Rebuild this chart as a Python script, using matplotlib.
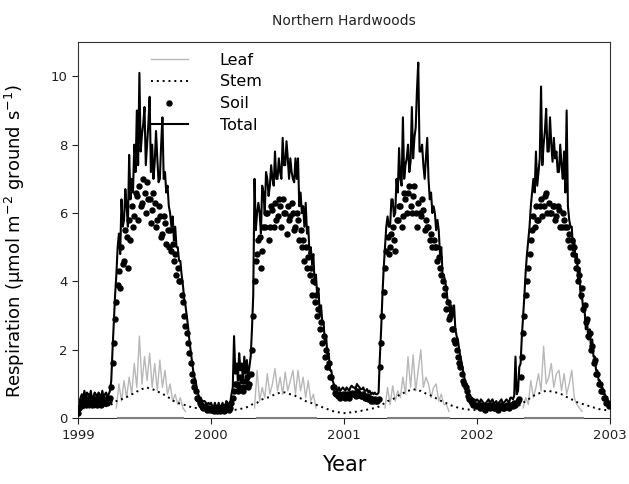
import numpy as np
import matplotlib
matplotlib.use("Agg")
import matplotlib.pyplot as plt

soil_1999 = [0.15, 0.3, 0.35, 0.5, 0.45, 0.6, 0.4, 0.55, 0.5, 0.45, 0.6, 0.4, 0.45, 0.55, 0.5, 0.4,
             0.55, 0.5, 0.4, 0.6, 0.45, 0.5, 0.55, 0.45, 0.5, 0.6,
             0.9, 1.6, 2.2, 2.9, 3.4, 3.9, 4.3, 3.8, 5.0, 4.5,
             4.6, 5.5, 5.3, 4.4, 5.8, 5.2, 6.2, 5.6, 5.9, 6.6, 6.5, 5.8, 6.8, 6.2, 6.3, 7.0,
             6.6, 6.0, 6.9, 6.4, 6.4, 5.7, 6.1, 6.6, 6.3, 5.6, 5.8, 6.2, 5.9, 5.3, 5.4, 5.9, 5.7, 5.1, 5.5, 5.0,
             5.5, 4.9, 5.1, 4.6, 4.8, 4.2, 4.4, 4.0, 4.0, 3.6, 3.4, 3.0, 2.7, 2.5, 2.2, 1.9,
             1.6, 1.3, 1.1, 0.9, 0.8, 0.6, 0.55, 0.45, 0.4, 0.35, 0.3, 0.35, 0.3, 0.25, 0.3, 0.25]
soil_2000 = [0.3, 0.25, 0.2, 0.3, 0.25, 0.2, 0.3, 0.2, 0.25, 0.3, 0.2, 0.25, 0.35, 0.3, 0.25, 0.3,
             0.45, 0.6, 0.8, 1.0, 1.0, 0.8, 0.9, 1.2, 1.1, 0.8, 0.9, 1.1, 1.2, 0.9, 1.0, 1.3,
             2.0, 3.0, 4.0, 4.6, 4.8, 5.2, 5.3, 4.4, 4.9, 5.6, 5.6, 6.0, 6.0, 5.2, 5.6, 6.2,
             6.1, 5.6, 6.3, 5.8, 5.9, 6.4, 6.2, 5.6, 6.4, 6.0, 6.0, 5.4, 6.2, 5.8, 5.9, 6.3, 6.0, 5.5, 5.6, 6.0,
             5.8, 5.2, 5.5, 5.0, 5.2, 4.6, 5.0, 4.4, 4.7, 4.2, 4.4, 3.6, 4.0, 3.4, 3.6, 3.0,
             3.2, 2.6, 2.8, 2.2, 2.4, 1.8, 2.0, 1.5, 1.6, 1.2, 1.2, 0.9, 0.9, 0.75, 0.7, 0.65, 0.7, 0.6, 0.65, 0.7]
soil_2001 = [0.65, 0.6, 0.7, 0.65, 0.6, 0.7, 0.75, 0.7, 0.7, 0.65, 0.8, 0.75, 0.7, 0.65, 0.65, 0.7,
             0.6, 0.6, 0.65, 0.55, 0.6, 0.5, 0.55, 0.5, 0.55, 0.5, 0.5, 0.55,
             1.5, 2.2, 3.0, 3.7, 4.4, 4.9, 5.3, 4.8, 5.0, 5.4,
             5.6, 5.2, 4.9, 5.8, 5.8, 6.2, 6.2, 5.6, 5.9, 6.6, 6.4, 6.0, 6.6, 6.8,
             6.2, 6.0, 6.5, 6.8, 6.0, 5.6, 6.3, 6.0, 5.9, 6.4, 6.1, 5.5, 5.8, 5.6, 5.6, 5.2, 5.4, 5.0, 5.2, 5.0,
             5.0, 4.6, 4.7, 4.4, 4.2, 4.0, 3.6, 3.8, 3.2, 3.4, 2.9, 3.0, 2.6, 2.6, 2.3, 2.2,
             2.0, 1.8, 1.6, 1.5, 1.3, 1.1, 1.0, 0.9, 0.8, 0.65, 0.55, 0.5, 0.45, 0.4, 0.4, 0.35]
soil_2002 = [0.4, 0.35, 0.3, 0.4, 0.35, 0.3, 0.25, 0.3, 0.35, 0.4, 0.3, 0.35, 0.4, 0.3, 0.3, 0.35,
             0.25, 0.3, 0.35, 0.4, 0.3, 0.3, 0.35, 0.4, 0.35, 0.3, 0.4, 0.4, 0.35, 0.45, 0.4, 0.45, 0.5, 0.55,
             1.2, 1.8, 2.5, 3.0, 3.6, 4.0, 4.4, 4.8, 5.2, 5.5, 5.9, 5.6, 6.2, 5.8,
             5.8, 6.2, 6.4, 5.9, 6.2, 6.5, 6.6, 6.0, 6.3, 6.0, 6.0, 6.2, 6.2, 5.8, 5.9, 6.2, 6.1, 5.6, 5.6, 6.0,
             5.8, 5.6, 5.6, 5.2, 5.4, 5.0, 5.2, 4.8, 5.0, 4.4, 4.6, 4.0, 4.2, 3.6, 3.8, 3.2,
             3.3, 2.8, 2.9, 2.4, 2.5, 2.0, 2.1, 1.6, 1.7, 1.3, 1.3, 1.0, 1.0, 0.8, 0.8, 0.6, 0.6, 0.45, 0.45, 0.35]

total_1999 = [0.25, 0.45, 0.6, 0.7, 0.6, 0.8, 0.55, 0.75, 0.7, 0.6, 0.8, 0.55, 0.6, 0.75, 0.7, 0.55,
              0.75, 0.7, 0.55, 0.8, 0.6, 0.7, 0.75, 0.6, 0.7, 0.8,
              1.1, 2.0, 2.8, 3.6, 4.2, 5.0, 5.4, 4.8, 6.4, 5.6,
              5.8, 6.7, 6.2, 5.6, 7.7, 6.4, 7.0, 6.6, 8.0, 7.2, 9.0, 7.4, 10.1, 7.8, 8.3, 8.6,
              9.1, 7.4, 8.0, 8.6, 9.4, 7.2, 8.0, 7.0, 7.5, 8.4, 7.6, 6.9, 7.0, 8.0, 8.8, 7.0, 7.2, 6.6, 6.8, 6.2,
              6.0, 5.6, 5.9, 5.2, 5.6, 5.0, 5.0, 4.6, 4.6, 4.2, 3.9, 3.5, 3.3, 3.0, 2.7, 2.3,
              2.0, 1.7, 1.4, 1.2, 1.1, 0.8, 0.7, 0.6, 0.6, 0.5, 0.5, 0.5, 0.45, 0.4, 0.45, 0.4]
total_2000 = [0.45, 0.35, 0.3, 0.45, 0.35, 0.3, 0.45, 0.3, 0.35, 0.45, 0.3, 0.35, 0.5, 0.45, 0.35, 0.45,
              0.7, 0.9, 2.4, 1.3, 1.6, 1.1, 1.9, 1.4, 1.6, 1.1, 1.8, 1.3, 1.7, 1.2, 1.5, 1.8,
              2.6, 3.6, 7.0, 5.5, 6.0, 6.3, 6.0, 5.4, 6.8, 6.6, 6.0, 7.2, 7.0, 6.5, 6.8, 7.4,
              7.0, 6.8, 7.8, 7.0, 7.0, 7.6, 7.2, 7.0, 8.2, 7.4, 7.4, 8.1, 7.6, 7.0, 7.6, 7.2, 7.0, 6.9, 7.6, 7.0,
              7.6, 6.2, 6.6, 6.0, 6.2, 5.6, 6.3, 5.4, 5.6, 4.8, 5.0, 4.5, 4.8, 3.9, 4.2, 3.6,
              3.8, 3.0, 3.3, 2.8, 2.8, 2.2, 2.4, 1.8, 1.9, 1.4, 1.4, 1.1, 1.0, 0.9, 0.85, 0.8, 0.9, 0.8, 0.85, 0.9]
total_2001 = [0.85, 0.8, 0.9, 0.85, 0.8, 0.9, 0.95, 0.9, 0.9, 0.85, 1.0, 0.95, 0.9, 0.85, 0.85, 0.9,
              0.8, 0.8, 0.85, 0.75, 0.8, 0.7, 0.75, 0.7, 0.75, 0.7, 0.7, 0.75,
              1.8, 2.6, 3.6, 4.4, 5.0, 5.6, 5.9, 5.6, 5.6, 6.4,
              6.4, 5.9, 6.0, 7.0, 6.6, 7.9, 7.0, 6.8, 8.8, 7.0, 7.4, 7.6, 8.0, 7.2,
              7.5, 9.1, 7.6, 8.2, 8.5, 9.6, 10.4, 7.8, 7.8, 8.0, 7.4, 7.0, 7.6, 8.2, 7.0, 6.4, 6.6, 6.0, 6.2, 6.0,
              5.5, 5.8, 5.5, 4.8, 5.0, 4.2, 4.2, 4.0, 3.8, 3.4, 3.4, 3.0, 3.3, 3.0, 3.3, 2.6,
              2.4, 2.3, 2.0, 1.8, 1.6, 1.4, 1.2, 1.0, 1.0, 0.8, 0.7, 0.6, 0.6, 0.55, 0.55, 0.5]
total_2002 = [0.55, 0.5, 0.45, 0.55, 0.5, 0.45, 0.4, 0.45, 0.5, 0.55, 0.45, 0.5, 0.55, 0.45, 0.45, 0.5,
              0.4, 0.45, 0.5, 0.55, 0.45, 0.45, 0.5, 0.55, 0.5, 0.45, 0.6, 0.6, 0.55, 0.65, 1.8, 0.7, 0.8, 1.5,
              1.6, 2.4, 3.0, 3.6, 4.3, 4.8, 5.2, 5.6, 6.2, 6.6, 7.0, 6.6, 7.8, 6.8,
              7.2, 7.6, 9.7, 7.4, 8.0, 8.4, 9.05, 7.8, 7.8, 8.8, 8.0, 7.5, 8.2, 7.6, 7.8, 7.2, 7.2, 8.0, 7.4, 7.0,
              7.8, 6.6, 9.0, 6.2, 5.8, 5.6, 5.6, 4.9, 5.2, 4.6, 4.8, 4.0, 4.4, 3.5, 3.6, 3.1,
              3.2, 2.6, 2.8, 2.3, 2.6, 2.1, 2.3, 1.8, 1.8, 1.4, 1.4, 1.1, 1.1, 0.9, 0.9, 0.7, 0.7, 0.55, 0.55, 0.45]

# stem, weekly (52 per year)
stem_1999 = [0.2, 0.25, 0.3, 0.28, 0.3, 0.32, 0.3, 0.33, 0.35, 0.33, 0.36, 0.35, 0.38,
             0.4, 0.45, 0.5, 0.52, 0.55, 0.6, 0.62, 0.65, 0.7, 0.72, 0.78, 0.8, 0.85,
             0.88, 0.9, 0.86, 0.85, 0.82, 0.78, 0.75, 0.7, 0.68, 0.62, 0.58, 0.52, 0.48,
             0.45, 0.42, 0.4, 0.38, 0.35, 0.33, 0.3, 0.3, 0.28, 0.27, 0.25, 0.25, 0.24]
stem_2000 = [0.22, 0.2, 0.2, 0.18, 0.2, 0.2, 0.22, 0.2, 0.22, 0.24, 0.25, 0.26, 0.28,
             0.3, 0.32, 0.35, 0.4, 0.42, 0.45, 0.5, 0.55, 0.58, 0.6, 0.62, 0.66, 0.7,
             0.72, 0.75, 0.76, 0.75, 0.72, 0.7, 0.68, 0.65, 0.6, 0.58, 0.55, 0.5, 0.47,
             0.45, 0.42, 0.4, 0.36, 0.34, 0.3, 0.28, 0.25, 0.22, 0.2, 0.18, 0.17, 0.15]
stem_2001 = [0.15, 0.14, 0.16, 0.18, 0.17, 0.2, 0.2, 0.22, 0.22, 0.25, 0.26, 0.28, 0.3,
             0.32, 0.35, 0.4, 0.45, 0.5, 0.52, 0.55, 0.6, 0.65, 0.7, 0.72, 0.78, 0.8,
             0.82, 0.85, 0.83, 0.8, 0.8, 0.76, 0.72, 0.7, 0.66, 0.62, 0.58, 0.55, 0.5,
             0.47, 0.44, 0.4, 0.37, 0.35, 0.32, 0.3, 0.28, 0.27, 0.26, 0.25, 0.25, 0.24]
stem_2002 = [0.25, 0.24, 0.22, 0.25, 0.22, 0.24, 0.25, 0.22, 0.24, 0.26, 0.25, 0.27, 0.28,
             0.3, 0.32, 0.33, 0.36, 0.4, 0.45, 0.5, 0.55, 0.6, 0.65, 0.7, 0.72, 0.75,
             0.78, 0.8, 0.8, 0.78, 0.76, 0.75, 0.72, 0.7, 0.66, 0.62, 0.58, 0.55, 0.5,
             0.47, 0.44, 0.42, 0.4, 0.37, 0.35, 0.33, 0.3, 0.28, 0.26, 0.25, 0.24, 0.23]

# leaf, weekly, only during leaf-on (first week of season per year)
leaf_start = [15, 17, 16, 18]
leaf_1999 = [0.3, 1.0, 0.5, 1.1, 0.6, 1.2, 0.7, 1.6, 0.9, 2.4, 1.0, 1.8, 1.1, 1.9,
             0.9, 1.6, 0.8, 1.7, 0.9, 1.4, 0.7, 1.0, 0.5, 0.7, 0.4, 0.6, 0.3, 0.2]
leaf_2000 = [0.3, 1.4, 0.5, 0.9, 0.6, 1.3, 0.7, 1.0, 1.45, 0.8, 1.2, 0.7, 1.35,
             0.8, 1.1, 1.4, 0.7, 1.4, 0.8, 1.2, 0.6, 1.1, 0.5, 0.7, 0.3]
leaf_2001 = [0.3, 0.9, 0.4, 0.95, 0.5, 0.8, 0.6, 1.2, 0.7, 1.8, 0.9, 1.85, 0.8,
             1.4, 2.0, 0.9, 1.2, 1.0, 0.6, 0.9, 1.0, 0.5, 0.7, 0.4, 0.4, 0.2]
leaf_2002 = [0.3, 0.6, 0.4, 1.1, 0.6, 0.9, 1.3, 0.8, 2.1, 1.0, 1.2, 1.6, 0.9,
             1.3, 1.4, 0.8, 1.3, 0.7, 1.0, 1.4, 0.6, 0.4, 0.3, 0.2]
leaf_on = [1999.29, 2000.34, 2001.32, 2002.35]
leaf_off = [1999.80, 2000.80, 2001.80, 2002.80]

soil = np.array(soil_1999 + soil_2000 + soil_2001 + soil_2002)
total = np.array(total_1999 + total_2000 + total_2001 + total_2002)
t2 = 1999 + np.arange(len(soil)) / 104.0

stem = np.array(stem_1999 + stem_2000 + stem_2001 + stem_2002)
t1 = 1999 + np.arange(len(stem)) / 52.0
leaf = np.full(len(stem), np.nan)
for k, vals in enumerate([leaf_1999, leaf_2000, leaf_2001, leaf_2002]):
    i0 = 52 * k + leaf_start[k]
    leaf[i0:i0 + len(vals)] = vals

fig = plt.figure(figsize=(6.29, 4.84), dpi=100)
ax = fig.add_axes([0.124, 0.136, 0.846, 0.777])

ax.plot(t2, total, color="black", lw=1.5, label="Total", zorder=2)
ax.plot(t1, leaf, color="#b8b8b8", lw=1.0, label="Leaf", zorder=3)
ax.hlines([0] * 4, leaf_on, leaf_off, color="#808080", lw=1.5, zorder=4, clip_on=False)
ax.plot(t1, stem, color="black", ls=(0, (1, 2)), lw=1.4, label="Stem", zorder=4)
ax.plot(t2, soil, ls="none", marker="o", ms=3.6, color="black", label="Soil", zorder=5)

ax.set_xlim(1999, 2003)
ax.set_ylim(0, 11)
ax.set_xticks([1999, 2000, 2001, 2002, 2003])
ax.set_yticks([0, 2, 4, 6, 8, 10])
ax.tick_params(direction="out", length=4, labelsize=9.5, colors="#222222")
for s in ax.spines.values():
    s.set_color("#333333")

ax.set_title("Northern Hardwoods", fontsize=10, color="#222222", pad=12)
ax.set_xlabel("Year", fontsize=15, labelpad=10)
ax.set_ylabel("Respiration (µmol m$^{-2}$ ground s$^{-1}$)", fontsize=13, labelpad=9)
ax.yaxis.set_label_coords(-0.095, 0.47)

h, l = ax.get_legend_handles_labels()
order = [l.index(n) for n in ["Leaf", "Stem", "Soil", "Total"]]
ax.legend([h[i] for i in order], [l[i] for i in order], loc="upper left",
          bbox_to_anchor=(0.11, 1.01), frameon=False, fontsize=11.5,
          handlelength=2.3, labelspacing=0.42, handletextpad=2.0)

fig.savefig("out.png", dpi=100)
